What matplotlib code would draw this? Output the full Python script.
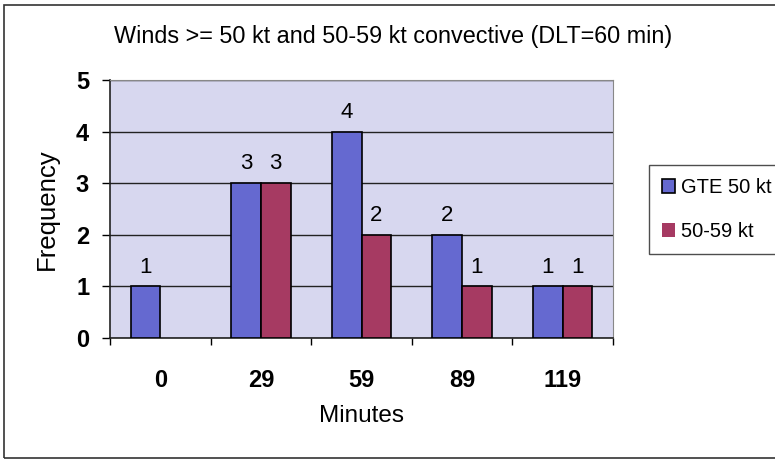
import matplotlib
matplotlib.use("Agg")
import matplotlib.pyplot as plt
import numpy as np
from matplotlib.patches import Rectangle

categories = ["0", "29", "59", "89", "119"]
gte50 = [1, 3, 4, 2, 1]
kt5059 = [0, 3, 2, 1, 1]
series_names = ["GTE 50 kt", "50-59 kt"]
title = "Winds >= 50 kt and 50-59 kt convective (DLT=60 min)"

plt.rcParams['font.family'] = ['Liberation Sans', 'DejaVu Sans']

W, H = 775, 461
fig = plt.figure(figsize=(W/100, H/100), dpi=100)
fig.patch.set_facecolor('white')

# outer chart frame
fig.patches.append(Rectangle((4/W, 1 - 458/H), 2.0, (458-5)/H, transform=fig.transFigure,
                             fill=False, edgecolor='#333333', linewidth=1.2, zorder=0))

L, R, T, B = 110, 613, 80, 338
ax = fig.add_axes([L/W, 1 - B/H, (R-L)/W, (B-T)/H])
ax.set_facecolor('#d7d7ef')

x = np.arange(len(categories))
w = 0.295
lw1 = [1.2 if v > 0 else 0 for v in gte50]
lw2 = [1.2 if v > 0 else 0 for v in kt5059]
b1 = ax.bar(x - w/2, gte50, w, color='#6569d0', edgecolor='black', linewidth=lw1, label=series_names[0], zorder=3)
b2 = ax.bar(x + w/2, kt5059, w, color='#a63a62', edgecolor='black', linewidth=lw2, label=series_names[1], zorder=3)

for rects, vals in ((b1, gte50), (b2, kt5059)):
    for r, v in zip(rects, vals):
        if v > 0:
            ax.text(r.get_x() + r.get_width()/2, v + 0.17, str(v), ha='center', va='bottom',
                    fontsize=16, color='black')

ax.set_xlim(-0.5, len(categories) - 0.5)
ax.set_ylim(0, 5)
ax.set_yticks(range(0, 6))
ax.yaxis.grid(True, color='#222222', linewidth=1.0, zorder=1)
ax.set_axisbelow(True)
ax.set_xticks(np.arange(-0.5, len(categories)), minor=False)
ax.set_xticklabels([])
ax.set_xticks(x, minor=True)
ax.set_xticklabels(categories, minor=True, fontsize=17, fontweight='bold')
ax.tick_params(axis='x', which='minor', length=0, pad=22)
ax.tick_params(axis='x', which='major', length=5, width=1, direction='out')
ax.tick_params(axis='y', labelsize=17, length=6, width=1, pad=9)
for lab in ax.get_yticklabels():
    lab.set_fontweight('bold')
for s in ['top', 'right']:
    ax.spines[s].set_color('#888888')
    ax.spines[s].set_linewidth(0.8)
for s in ['left', 'bottom']:
    ax.spines[s].set_color('#222222')
    ax.spines[s].set_linewidth(1.2)

ax.set_ylabel("Frequency", fontsize=18.5, labelpad=12)
ax.set_xlabel("Minutes", fontsize=17.5, labelpad=10)

fig.text(393/W, 1 - 37/H, title, ha='center', va='center', fontsize=16.8)

leg = fig.legend(handles=[b1, b2], labels=series_names, loc='upper left',
                 bbox_to_anchor=(649/W, 1 - 165/H), fontsize=14.5, frameon=True,
                 fancybox=False, edgecolor='#222222', handlelength=0.65, handleheight=0.65,
                 handletextpad=0.3, borderpad=0.65, labelspacing=1.25, borderaxespad=0)
leg.get_frame().set_linewidth(1.0)

fig.savefig("out.png", dpi=100)
